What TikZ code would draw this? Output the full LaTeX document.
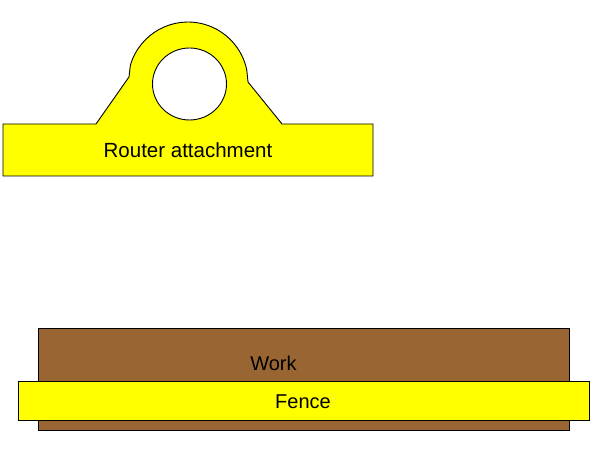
\documentclass[tikz,border=0pt]{standalone}
\usepackage{fontspec}
\setmainfont{Liberation Sans}
\usetikzlibrary{calc}
\definecolor{workbrown}{HTML}{996633}
\definecolor{jigyellow}{HTML}{FFFF00}
\tikzset{
	part/.style={draw=black, line width=0.9pt, line join=miter},
	caption/.style={inner sep=0pt, font=\fontsize{20}{24}\selectfont}
}

\begin{document}
\begin{tikzpicture}[x=1pt, y=1pt]
		\useasboundingbox (0, 0) rectangle (602, 457);

		\draw[part, fill=jigyellow] (3, 333) -- (96, 333) -- (129, 380) -- (130.4, 391.8)
			arc (163.7:11.5:60pt) -- (248, 375) -- (282, 333) -- (373, 333)
			-- (373, 281) -- (3, 281) -- cycle;
		\draw[part, fill=white] (189.5, 373) ellipse (37pt and 36pt);

		\draw[part, fill=workbrown] (38, 27) rectangle (569, 129);
		\draw[part, fill=jigyellow] (18, 37) rectangle (589, 76);

		\path (188, 307) node[caption, font=\fontsize{20.5}{24}\selectfont] (router) {Router attachment}
			(273.5, 94) node[caption] (work) {Work}
			(303, 55) node[caption] (fence) {Fence};
	\end{tikzpicture}
\end{document}
